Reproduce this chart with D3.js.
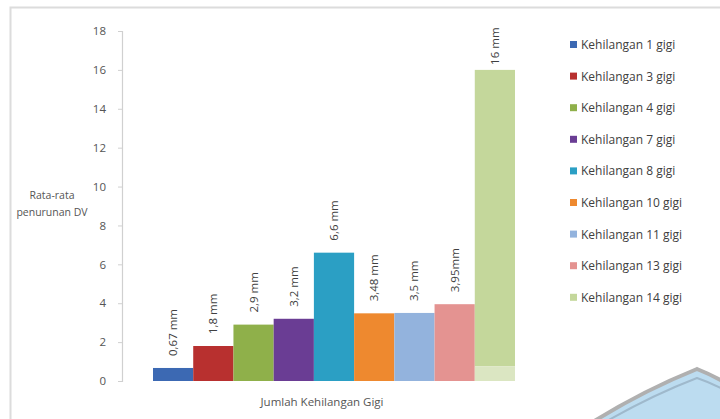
<!DOCTYPE html>
<html><head><meta charset="utf-8">
<script src="https://cdn.jsdelivr.net/npm/d3@7"></script>
<style>
html,body{margin:0;padding:0;background:#fff;}
svg{display:block;font-family:"Open Sans",Lato,sans-serif;}
</style></head>
<body><svg id="c" width="720" height="419"></svg>
<script>
const categories = ["Kehilangan 1 gigi","Kehilangan 3 gigi","Kehilangan 4 gigi","Kehilangan 7 gigi","Kehilangan 8 gigi","Kehilangan 10 gigi","Kehilangan 11 gigi","Kehilangan 13 gigi","Kehilangan 14 gigi"];
const values = [0.67, 1.8, 2.9, 3.2, 6.6, 3.48, 3.5, 3.95, 16];
const lowerPart = [0, 0, 0, 0, 0, 0, 0, 0, 0.75];
const valueLabels = ["0,67 mm","1,8 mm","2,9 mm","3,2 mm","6,6 mm","3,48 mm","3,5 mm","3,95mm","16 mm"];
const colors = ["#3c69b3","#b8302f","#8fb04a","#6a3d94","#2b9fc4","#ee892f","#93b3dd","#e49391","#c4d79b"];
const lowerColors = ["#3c69b3","#b8302f","#8fb04a","#6a3d94","#2b9fc4","#ee892f","#93b3dd","#e49391","#dbe6c2"];
const yTicks = [0,2,4,6,8,10,12,14,16,18];
const yTitle = ["Rata-rata","penurunan DV"];
const xTitle = "Jumlah Kehilangan Gigi";

const svg = d3.select("#c");

// watermark decoration (bottom-right)
svg.append("path")
  .attr("d","M588,425 Q640,392 697,369 Q712,375 730,385 L730,425 Z")
  .attr("fill","#bcdcf0").attr("stroke","#b0b0b0").attr("stroke-width",4);
svg.append("path")
  .attr("d","M600,425 Q650,396 697,378 Q712,383 730,393")
  .attr("fill","none").attr("stroke","#9fb9cc").attr("stroke-width",2);

// frame
svg.append("path").attr("d","M10.5,419 V7.5 H720").attr("fill","none").attr("stroke","#dcdcdc").attr("stroke-width",2);

const y = d3.scaleLinear().domain([0,18]).range([381,31]);
const x = d3.scaleBand().domain(categories).range([153,515]).padding(0);

// y axis
const yAxis = d3.axisLeft(y).tickValues(yTicks).tickSize(4).tickPadding(12).tickFormat(d3.format("d"));
const ga = svg.append("g").attr("transform","translate(122,0)").call(yAxis);
ga.select(".domain").attr("stroke","#d0d0d0").attr("stroke-width",1.2);
ga.selectAll(".tick line").attr("stroke","#d0d0d0");
ga.selectAll(".tick text").attr("fill","#555").attr("font-size",11.5).attr("font-family","'Open Sans',sans-serif");

// bars
svg.append("g").selectAll("rect.main").data(categories).join("rect")
  .attr("x", d=>x(d)).attr("width", x.bandwidth())
  .attr("y", (d,i)=>y(values[i])).attr("height",(d,i)=>y(lowerPart[i])-y(values[i]))
  .attr("fill",(d,i)=>colors[i]);
svg.append("g").selectAll("rect.low").data(categories).join("rect")
  .attr("x", d=>x(d)).attr("width", x.bandwidth())
  .attr("y", (d,i)=>y(lowerPart[i])).attr("height",(d,i)=>y(0)-y(lowerPart[i]))
  .attr("fill",(d,i)=>lowerColors[i]);

// value labels (rotated)
svg.append("g").selectAll("text").data(categories).join("text")
  .attr("transform",(d,i)=>`translate(${x(d)+x.bandwidth()/2+4},${y(values[i])-(i===8?5:12)}) rotate(-90)`)
  .attr("text-anchor","start").attr("font-size",11.5).attr("fill","#404040")
  .text((d,i)=>valueLabels[i]);

// y title
svg.append("text").attr("x",52).attr("y",199).attr("text-anchor","middle").attr("font-size",10.5).attr("fill","#555").text(yTitle[0]);
svg.append("text").attr("x",52).attr("y",216).attr("text-anchor","middle").attr("font-size",10.5).attr("fill","#555").text(yTitle[1]);

// x title
svg.append("text").attr("x",322).attr("y",406).attr("text-anchor","middle").attr("font-size",11.5).attr("fill","#555").text(xTitle);

// legend
const lg = svg.append("g").selectAll("g").data(categories).join("g")
  .attr("transform",(d,i)=>`translate(570,${45+i*31.6})`);
lg.append("rect").attr("x",0).attr("y",-4).attr("width",7).attr("height",7).attr("fill",(d,i)=>colors[i]);
lg.append("text").attr("x",11).attr("y",4).attr("font-size",12).attr("fill","#404040").text(d=>d);
</script></body></html>
